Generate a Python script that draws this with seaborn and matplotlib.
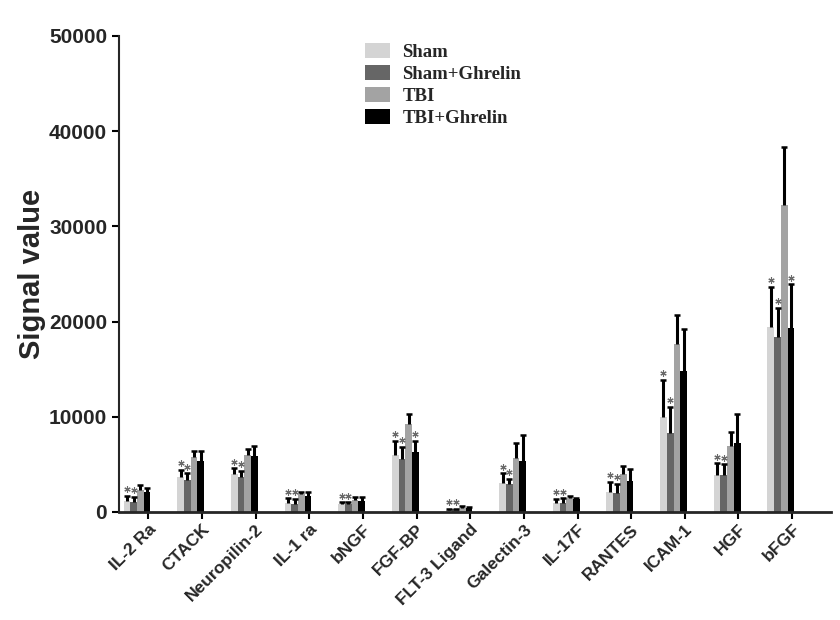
import numpy as np
import pandas as pd
import seaborn as sns
from matplotlib import pyplot as plt

cytokines = ['IL-2 Ra', 'CTACK', 'Neuropilin-2', 'IL-1 ra', 'bNGF', 'FGF-BP',
             'FLT-3 Ligand', 'Galectin-3', 'IL-17F', 'RANTES', 'ICAM-1', 'HGF', 'bFGF']
groups = ['Sham', 'Sham+Ghrelin', 'TBI', 'TBI+Ghrelin']

sham = [1190, 3640, 3990, 980, 840, 5990, 210, 3080, 910, 2070, 9940, 3890, 19470]
sham_err = [490, 770, 600, 460, 180, 1470, 140, 980, 460, 1120, 3930, 1220, 4200]
sham_g = [1020, 3360, 3710, 840, 875, 5600, 280, 2910, 910, 2030, 8260, 3890, 18420]
sham_g_err = [590, 700, 630, 530, 145, 1260, 70, 590, 530, 910, 2800, 1110, 3050]
tbi = [2310, 5810, 5950, 1890, 1260, 9240, 455, 5640, 1440, 4030, 17610, 6970, 32250]
tbi_err = [490, 630, 630, 240, 350, 1020, 175, 1640, 280, 840, 3080, 1470, 6060]
tbi_g = [2100, 5360, 5920, 1680, 1190, 6270, 420, 5360, 1400, 3260, 14840, 7210, 19360]
tbi_g_err = [390, 1080, 1050, 450, 350, 1220, 60, 2690, 100, 1290, 4380, 3050, 4560]

# significance marks (*) per group
sham_star = [True] * 13
sham_g_star = [True] * 13
tbi_star = [False] * 13
tbi_g_star = [False, False, False, False, False, True, False,
              False, False, False, False, False, True]

colors = ['#d4d4d4', '#666666', '#a3a3a3', '#000000']

means = [sham, sham_g, tbi, tbi_g]
errs = [sham_err, sham_g_err, tbi_err, tbi_g_err]
stars = [sham_star, sham_g_star, tbi_star, tbi_g_star]

df = pd.DataFrame({
    'cytokine': np.tile(cytokines, len(groups)),
    'group': np.repeat(groups, len(cytokines)),
    'value': np.concatenate(means),
})

sns.set_style('ticks')
plt.rcParams['font.family'] = ['Liberation Sans', 'DejaVu Sans']
plt.rcParams['font.weight'] = 'bold'

fig = plt.figure(figsize=(8.4, 6.2), dpi=100)
ax = fig.add_axes([0.1417, 0.1742, 0.8473, 0.7678])

ax = sns.barplot(x='cytokine', y='value', hue='group',
                 data=df, order=cytokines, hue_order=groups,
                 palette=colors, width=0.5, errorbar=None,
                 saturation=1, linewidth=0, ax=ax)

# upper-only error bars (line + cap), then the stars
for container, m, e, s in zip(ax.containers, means, errs, stars):
    xs = np.array([b.get_x() + b.get_width() / 2 for b in container])
    m = np.array(m)
    top = m + np.array(e)
    ax.vlines(xs, m, top, color='black', linewidth=2.2, zorder=3)
    ax.plot(xs, top, linestyle='none', marker='_', markersize=5,
            markeredgewidth=1.8, color='black', zorder=3)
    s = np.array(s)
    ax.plot(xs[s], top[s] + 700, linestyle='none', marker=(6, 2, 0),
            markersize=4.5, markeredgewidth=0.8, color='#6a6a6a', zorder=4)

ax.set_ylim(0, 50000)
ax.set_yticks(np.arange(0, 50001, 10000))
ax.set_xlim(-0.335, 12.93)
ax.set_xticks(np.arange(len(cytokines)) + 0.21)
ax.set_xticklabels(cytokines, rotation=45, ha='right', rotation_mode='anchor',
                   fontsize=12.5, fontweight='bold')
for lab in ax.get_yticklabels():
    lab.set_fontsize(15)
    lab.set_fontweight('bold')

ax.set_xlabel('')
ax.set_ylabel('Signal value', fontsize=21, fontweight='bold', labelpad=2)

sns.despine(ax=ax)
ax.spines['left'].set_linewidth(1.5)
ax.spines['bottom'].set_linewidth(2)
ax.tick_params(axis='both', direction='out', length=5, width=1.5, color='black')
ax.tick_params(axis='x', pad=2)

handles, labels = ax.get_legend_handles_labels()
ax.legend(handles, labels, loc='upper left', bbox_to_anchor=(0.335, 1.0),
          frameon=False, handlelength=1.35, handleheight=0.85,
          handletextpad=0.65, labelspacing=0.2, borderaxespad=0,
          prop={'family': 'Liberation Serif', 'weight': 'bold', 'size': 13.5})

fig.savefig('out.png', dpi=100)
